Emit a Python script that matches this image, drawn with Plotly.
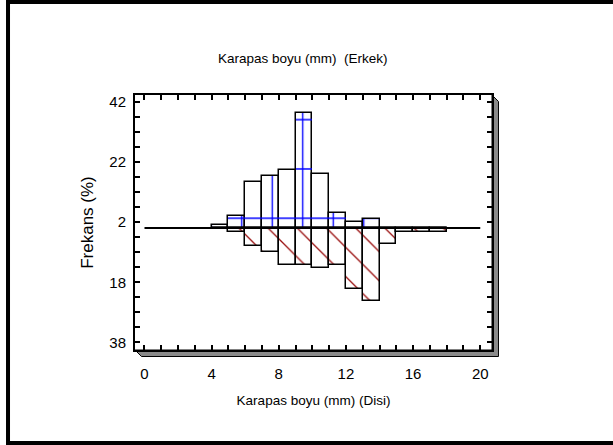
import plotly.graph_objects as go

# ---- data ----
bin_left = [4, 5, 6, 7, 8, 9, 10, 11, 12, 13, 14, 15, 16, 17]
bin_width = 1
male_pct = [0.9, 4.0, 15.2, 17.2, 19.2, 38.2, 18.1, 5.1, 2.0, 3.1, 0, 0, 0, 0]      # Erkek (upper)
female_pct = [0, 1.2, 6.1, 8.1, 12.1, 12.1, 13.3, 12.1, 20.2, 24.2, 5.2, 1.2, 1.2, 1.2]  # Disi (lower)
x_ticks = [0, 4, 8, 12, 16, 20]
y_tickvals = [42, 22, 2, -18, -38]
y_ticktext = ["42", "22", "2", "18", "38"]
baseline_x = [0, 20]

centers = [b + bin_width / 2 for b in bin_left]
female_neg = [-v for v in female_pct]

FONT = "Liberation Sans, Arial, sans-serif"

fig = go.Figure()

# male bars: white fill with blue vertical hatch
fig.add_trace(go.Bar(
    x=centers, y=male_pct, width=bin_width,
    marker=dict(color="white", line=dict(color="black", width=1.5),
                pattern=dict(shape="|", fgcolor="#0000ff", bgcolor="white", fgopacity=1,
                             size=30.5, solidity=0.045)),
    showlegend=False, hoverinfo="skip"))
# male bars: blue horizontal hatch overlay
fig.add_trace(go.Bar(
    x=centers, y=male_pct, width=bin_width,
    marker=dict(color="rgba(0,0,0,0)", line=dict(width=0),
                pattern=dict(shape="-", fgcolor="#0000ff", fillmode="overlay", fgopacity=1,
                             size=49.3, solidity=0.03)),
    showlegend=False, hoverinfo="skip"))
# female bars: white fill with dark red diagonal hatch
fig.add_trace(go.Bar(
    x=centers, y=female_neg, width=bin_width,
    marker=dict(color="white", line=dict(color="black", width=1.5),
                pattern=dict(shape="\\", fgcolor="#9a1010", bgcolor="white", fgopacity=1,
                             size=20.65, solidity=0.065)),
    showlegend=False, hoverinfo="skip"))
# baseline
fig.add_trace(go.Scatter(
    x=baseline_x, y=[0, 0], mode="lines",
    line=dict(color="black", width=2), showlegend=False, hoverinfo="skip"))

axis_common = dict(showline=True, linecolor="black", linewidth=2, mirror="allticks",
                   ticks="inside", ticklen=5, tickwidth=1.5, tickcolor="black",
                   showgrid=False, zeroline=False,
                   tickfont=dict(family=FONT, size=15, color="black"))

fig.update_xaxes(range=[-0.565, 20.70], tickmode="array", tickvals=x_ticks,
                 ticklabelstandoff=9,
                 minor=dict(ticks="inside", ticklen=5, tickwidth=1.5, tickcolor="black",
                            tickmode="linear", tick0=0, dtick=1, showgrid=False),
                 title=dict(text="Karapas boyu (mm) (Disi)",
                            font=dict(family=FONT, size=13.5, color="black"), standoff=15),
                 **axis_common)
fig.update_yaxes(range=[-40.5, 44.2], tickmode="array", tickvals=y_tickvals,
                 ticktext=y_ticktext, ticklabelstandoff=4,
                 minor=dict(ticks="inside", ticklen=5, tickwidth=1.5, tickcolor="black",
                            tickmode="linear", tick0=2, dtick=5, showgrid=False),
                 title=dict(text="Frekans (%)",
                            font=dict(family=FONT, size=17, color="black"), standoff=11),
                 **axis_common)

# 3D shadow of the plot frame
fig.add_shape(type="path", xref="paper", yref="paper", layer="below",
              path="M 1,1 L 1.0182,0.9745 L 1.0182,-0.0255 L 0.0182,-0.0255 L 0,0 L 1,0 Z",
              fillcolor="#8a8a8a", line=dict(color="black", width=1))
# outer border
fig.add_shape(type="rect", xref="paper", yref="paper",
              x0=-0.3557, x1=1.3585, y0=-0.3647, y1=1.3647,
              line=dict(color="black", width=4), fillcolor="rgba(0,0,0,0)")

fig.update_layout(
    width=613, height=445,
    margin=dict(l=135, r=121, t=95, b=95, autoexpand=False),
    paper_bgcolor="white", plot_bgcolor="white",
    barmode="overlay", bargap=0,
    title=dict(text="Karapas boyu (mm)  (Erkek)", x=0.494, xref="container", xanchor="center",
               y=0.870, yref="container", yanchor="middle",
               font=dict(family=FONT, size=13.5, color="black")),
    showlegend=False,
)

fig.write_html("out.html", config={"displayModeBar": False},
               post_script="document.body.style.margin='0';")
